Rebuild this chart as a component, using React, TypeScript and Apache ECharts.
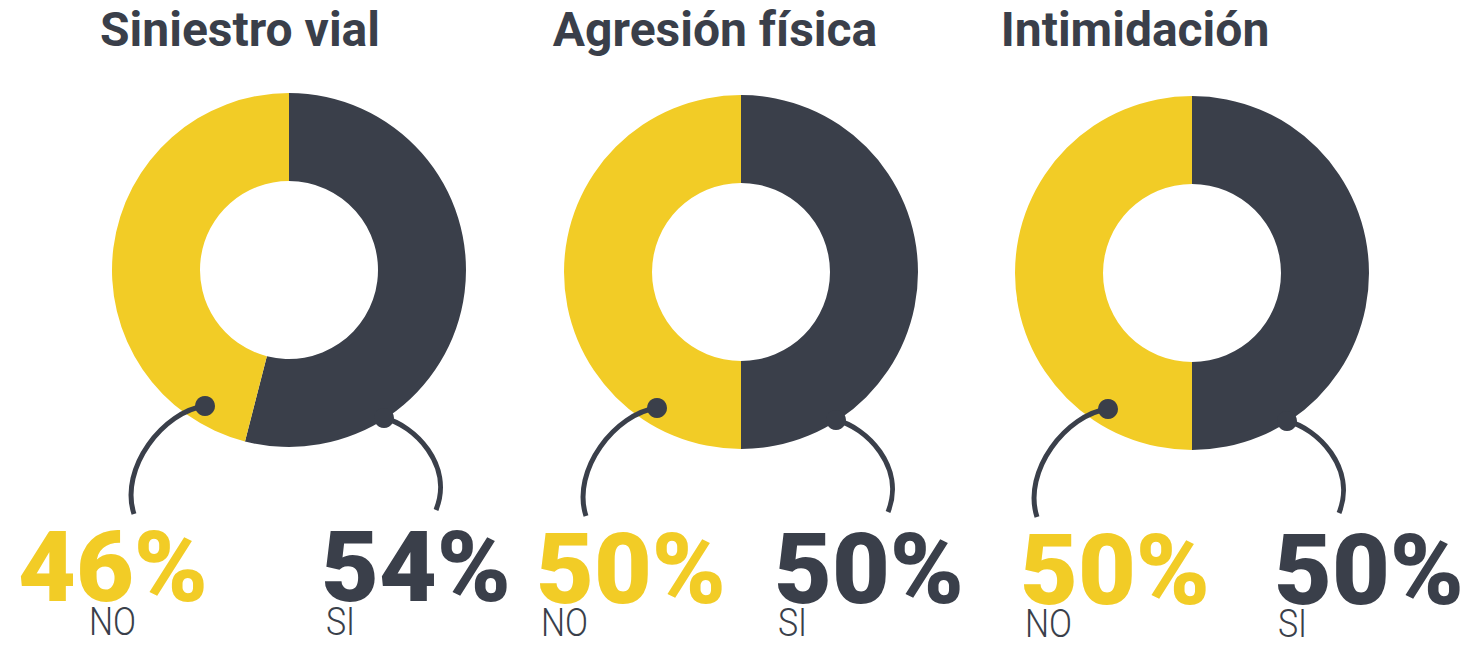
import React, { useEffect, useRef } from "react";
import * as echarts from "echarts";

const titles = ["Siniestro vial", "Agresión física", "Intimidación"];
const categories = ["SI", "NO"];
const siValues = [54, 50, 50];
const noValues = [46, 50, 50];

const DARK = "#3A3F4A";
const YELLOW = "#F2CC26";

// layout
const centers = [
  [289, 270],
  [741, 272],
  [1192, 273],
];
const titleX = [240, 715, 1135];
const noPctX = [18, 536, 1020];
const siPctX = [321, 774, 1274];
const pctY = [567, 569, 570];
const noLblX = [89, 541, 1025];
const siLblX = [326, 778, 1278];
const lblY = [622, 623, 624];

export default function App() {
  const ref = useRef<HTMLDivElement>(null);
  useEffect(() => {
    const chart = echarts.init(ref.current!, null, { renderer: "svg" });
    const series: any[] = titles.map((t, i) => ({
      type: "pie",
      name: t,
      center: centers[i],
      radius: [89, 177],
      startAngle: 90,
      clockwise: true,
      silent: true,
      label: { show: false },
      labelLine: { show: false },
      itemStyle: { borderWidth: 0 },
      data: [
        { name: categories[0], value: siValues[i], itemStyle: { color: DARK } },
        { name: categories[1], value: noValues[i], itemStyle: { color: YELLOW } },
      ],
    }));
    const graphic: any[] = [];
    titles.forEach((t, i) => {
      const [cx, cy] = centers[i];
      graphic.push({
        type: "text",
        x: titleX[i],
        y: 29,
        z: 10,
        style: {
          text: t,
          font: "bold 48px Roboto",
          fill: DARK,
          align: "center",
          verticalAlign: "middle",
        },
      });
      // NO connector
      graphic.push({
        type: "bezierCurve",
        z: 10,
        shape: {
          x1: cx - 84, y1: cy + 136,
          cpx1: cx - 125, cpy1: cy + 141,
          cpx2: cx - 170, cpy2: cy + 198,
          x2: cx - 155, y2: cy + 244,
        },
        style: { stroke: DARK, lineWidth: 5, fill: null },
      });
      graphic.push({
        type: "circle",
        z: 11,
        shape: { cx: cx - 84, cy: cy + 136, r: 10 },
        style: { fill: DARK },
      });
      // SI connector
      graphic.push({
        type: "bezierCurve",
        z: 10,
        shape: {
          x1: cx + 95, y1: cy + 148,
          cpx1: cx + 125, cpy1: cy + 155,
          cpx2: cx + 165, cpy2: cy + 195,
          x2: cx + 147, y2: cy + 240,
        },
        style: { stroke: DARK, lineWidth: 5, fill: null },
      });
      graphic.push({
        type: "circle",
        z: 11,
        shape: { cx: cx + 95, cy: cy + 148, r: 10 },
        style: { fill: DARK },
      });
      // percentages
      graphic.push({
        type: "text",
        x: noPctX[i],
        y: pctY[i],
        z: 10,
        scaleX: 1.02,
        style: {
          text: noValues[i] + "%",
          font: "900 98px Roboto",
          fill: YELLOW,
          align: "left",
          verticalAlign: "middle",
        },
      });
      graphic.push({
        type: "text",
        x: siPctX[i],
        y: pctY[i],
        z: 10,
        scaleX: 1.02,
        style: {
          text: siValues[i] + "%",
          font: "900 98px Roboto",
          fill: DARK,
          align: "left",
          verticalAlign: "middle",
        },
      });
      graphic.push({
        type: "text",
        x: noLblX[i],
        y: lblY[i],
        z: 10,
        scaleX: 0.87,
        style: {
          text: categories[1],
          font: "300 39px Roboto",
          fill: DARK,
          align: "left",
          verticalAlign: "middle",
        },
      });
      graphic.push({
        type: "text",
        x: siLblX[i],
        y: lblY[i],
        z: 10,
        scaleX: 0.87,
        style: {
          text: categories[0],
          font: "300 39px Roboto",
          fill: DARK,
          align: "left",
          verticalAlign: "middle",
        },
      });
    });
    chart.setOption({
      animation: false,
      backgroundColor: "#ffffff",
      series,
      graphic,
    });
    return () => chart.dispose();
  }, []);
  return (
    <div
      ref={ref}
      style={{ position: "absolute", left: 0, top: 0, width: 1476, height: 646 }}
    />
  );
}
